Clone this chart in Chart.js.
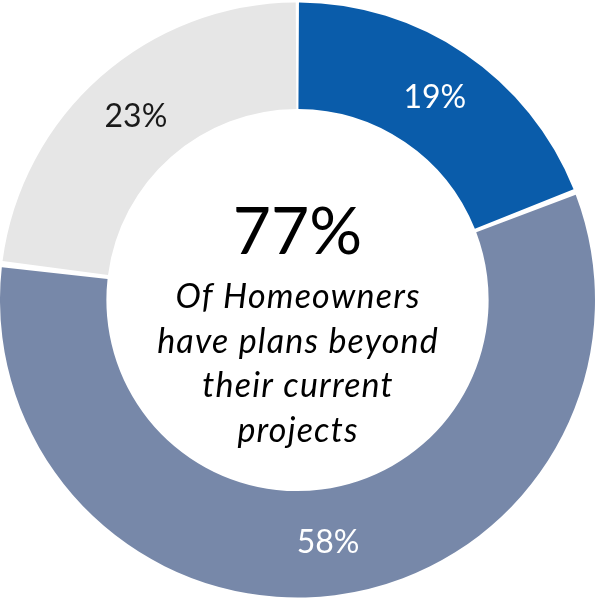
<!DOCTYPE html>
<html>
<head>
<meta charset="utf-8">
<script src="https://cdn.jsdelivr.net/npm/chart.js@4/dist/chart.umd.min.js"></script>
<style>
  html, body { margin: 0; padding: 0; background: #ffffff; }
  #wrap { width: 595px; height: 600px; position: relative; }
</style>
</head>
<body>
<div id="wrap"><canvas id="donut" width="595" height="600"></canvas></div>
<script>
// Homeowner plans breakdown
const categories = ['Plans beyond current projects (A)', 'Plans beyond current projects (B)', 'No further plans'];
const shares = [19, 58, 23];
const sliceColors = ['#0A5CAA', '#7788A9', '#E6E6E6'];
const labelColors = ['#ffffff', '#ffffff', '#1a1a1a'];
const centerLines = ['Of Homeowners', 'have plans beyond', 'their current', 'projects'];

const FONT = 'Lato, "Open Sans", "DejaVu Sans", sans-serif';

// Percent label at the centroid of each arc
const sliceLabels = {
  id: 'sliceLabels',
  afterDatasetsDraw(chart) {
    const { ctx } = chart;
    const meta = chart.getDatasetMeta(0);
    ctx.save();
    ctx.font = '32px ' + FONT;
    ctx.textAlign = 'center';
    ctx.textBaseline = 'middle';
    meta.data.forEach((arc, i) => {
      const p = arc.tooltipPosition();
      ctx.fillStyle = labelColors[i];
      ctx.fillText(shares[i] + '%', p.x, p.y);
    });
    ctx.restore();
  }
};

// Headline total and caption in the hole
const centerText = {
  id: 'centerText',
  afterDatasetsDraw(chart) {
    const { ctx } = chart;
    const arc = chart.getDatasetMeta(0).data[0];
    const cx = arc.x, cy = arc.y;
    const total = shares[0] + shares[1];
    ctx.save();
    ctx.textAlign = 'center';
    ctx.textBaseline = 'alphabetic';
    ctx.fillStyle = '#000000';
    ctx.font = '66px ' + FONT;
    ctx.fillText(total + '%', cx, cy - 46);
    ctx.font = 'italic 34px ' + FONT;
    ctx.letterSpacing = '1.2px';
    centerLines.forEach((line, i) => {
      ctx.fillText(line, cx + 0.6, cy + 8 + i * 44.5);
    });
    ctx.restore();
  }
};

new Chart(document.getElementById('donut'), {
  type: 'doughnut',
  data: {
    labels: categories,
    datasets: [{
      data: shares,
      backgroundColor: sliceColors,
      borderWidth: 0,
      spacing: 4
    }]
  },
  options: {
    responsive: false,
    animation: false,
    cutout: '64%',
    layout: { padding: 0 },
    plugins: {
      legend: { display: false },
      tooltip: { enabled: false }
    }
  },
  plugins: [sliceLabels, centerText]
});
</script>
</body>
</html>
